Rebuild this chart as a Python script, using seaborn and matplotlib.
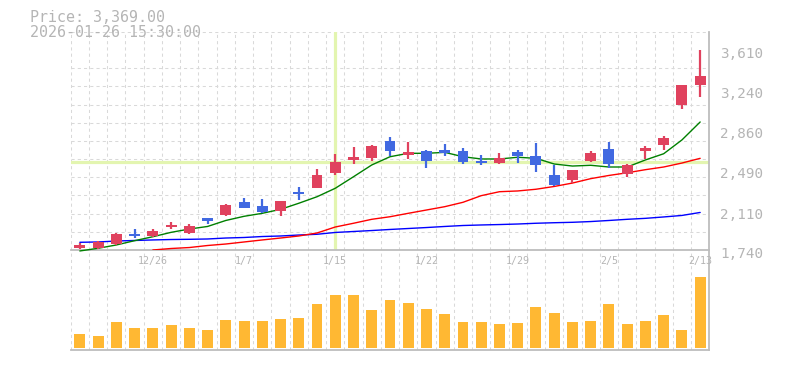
import numpy as np
import pandas as pd
import matplotlib
matplotlib.use("Agg")
import matplotlib.pyplot as plt
import matplotlib.transforms as mtransforms
import seaborn as sns

# ---------------- data ----------------
dates = ["12/22", "12/23", "12/24", "12/25", "12/26", "12/29", "12/30",
         "1/5", "1/6", "1/7", "1/8", "1/9", "1/13", "1/14", "1/15",
         "1/16", "1/19", "1/20", "1/21", "1/22", "1/23", "1/26", "1/27",
         "1/28", "1/29", "1/30", "2/2", "2/3", "2/4", "2/5", "2/6", "2/9",
         "2/10", "2/12", "2/13"]
open_ = [1762, 1762, 1796, 1891, 1871, 1957, 1899, 2039, 2067, 2189, 2151, 2107,
         2284, 2322, 2463, 2583, 2603, 2759, 2624, 2666, 2675, 2666, 2572, 2553,
         2656, 2619, 2441, 2395, 2572, 2684, 2451, 2666, 2722, 3096, 3283]
high = [1808, 1824, 1902, 1934, 1934, 2002, 1981, 2041, 2170, 2229, 2217, 2198,
        2329, 2497, 2639, 2705, 2722, 2799, 2750, 2675, 2731, 2694, 2628, 2647,
        2675, 2740, 2535, 2488, 2666, 2750, 2544, 2712, 2806, 3283, 3610]
low = [1747, 1747, 1787, 1855, 1864, 1932, 1888, 1987, 2061, 2135, 2083, 2060,
       2212, 2322, 2444, 2547, 2574, 2622, 2593, 2510, 2622, 2544, 2535, 2544,
       2555, 2471, 2343, 2369, 2563, 2507, 2423, 2591, 2675, 3058, 3171]
close = [1787, 1815, 1890, 1873, 1920, 1977, 1964, 2011, 2161, 2135, 2098, 2198,
         2268, 2441, 2563, 2610, 2714, 2668, 2656, 2575, 2650, 2565, 2553, 2600,
         2621, 2537, 2348, 2488, 2647, 2544, 2535, 2694, 2787, 3283, 3369]
volume = [137, 117, 257, 197, 197, 227, 197, 177, 277, 267, 267, 287, 297, 437,
          527, 527, 377, 477, 447, 387, 337, 257, 257, 237, 247, 407, 347, 257,
          267, 437, 237, 267, 327, 177, 707]
ma_short = [1731, 1756, 1787, 1827, 1864, 1905, 1936, 1960, 2016, 2055, 2083, 2120,
            2177, 2238, 2317, 2425, 2535, 2612, 2644, 2644, 2653, 2612, 2591, 2591,
            2607, 2597, 2544, 2525, 2532, 2516, 2516, 2582, 2640, 2769, 2937]
ma_mid = [np.nan, np.nan, np.nan, np.nan, 1740, 1754, 1763, 1782, 1796, 1815,
          1834, 1852, 1871, 1899, 1955, 1990, 2027, 2051, 2083, 2114, 2145, 2186,
          2248, 2285, 2292, 2308, 2334, 2366, 2407, 2437, 2462, 2491, 2516, 2553, 2597]
ma_long = [1812, 1815, 1824, 1829, 1834, 1838, 1840, 1843, 1852, 1857, 1866, 1871,
           1880, 1887, 1904, 1913, 1922, 1932, 1941, 1950, 1960, 1969, 1974, 1978,
           1983, 1990, 1995, 1999, 2006, 2016, 2027, 2036, 2049, 2063, 2091]
tick_dates = ["12/26", "1/7", "1/15", "1/22", "1/29", "2/5", "2/13"]
price_ticks = [1740, 2110, 2490, 2860, 3240, 3610]
price_tick_labels = ["1,740", "2,110", "2,490", "2,860", "3,240", "3,610"]
header_price = "Price: 3,369.00"
header_time = "2026-01-26 15:30:00"
cross_idx = 14
cross_price = 2563

# ---------------- style ----------------
sns.set_theme(style="white")
plt.rcParams['font.family'] = ['DejaVu Sans Mono', 'DejaVu Sans']

UP = "#e0425e"
DOWN = "#4169e1"
VOL = "#ffb833"
GRID = "#d9d9d9"
TXT = "#b5b5b5"
SPINE = "#bdbdbd"
CROSS = "#e3f5b0"

W, H = 785, 370
fig = plt.figure(figsize=(W / 100, H / 100), dpi=100)
L, R = 70.7, 709.3
axv = fig.add_axes([L / W, (H - 350) / H, (R - L) / W, 100 / H])
ax = fig.add_axes([L / W, (H - 250) / H, (R - L) / W, (250 - 31.8) / H])
axv.patch.set_alpha(0)
ax.patch.set_alpha(0)

n = len(dates)
df = pd.DataFrame({
    "i": np.arange(n), "date": dates, "open": open_, "high": high, "low": low,
    "close": close, "volume": volume, "ma_short": ma_short, "ma_mid": ma_mid,
    "ma_long": ma_long,
})
df["up"] = df["close"] >= df["open"]
colors = [UP if u else DOWN for u in df["up"]]

# crosshair (beneath everything)
ax.axhline(cross_price, color=CROSS, lw=2.3, zorder=1)
ax.axvline(cross_idx, color=CROSS, lw=2.3, zorder=1)

# moving averages
sns.lineplot(data=df, x="i", y="ma_long", ax=ax, color="#0000ff", lw=1.0, zorder=3, clip_on=False)
sns.lineplot(data=df.dropna(subset=["ma_mid"]), x="i", y="ma_mid", ax=ax, color="#ff0000", lw=1.0, zorder=3)
sns.lineplot(data=df, x="i", y="ma_short", ax=ax, color="#008000", lw=1.0, zorder=3, clip_on=False)

# candles
ax.vlines(df["i"], df["low"], df["high"], colors=colors, lw=1.6, zorder=4)
body_bottom = np.minimum(df["open"], df["close"])
body_h = np.maximum(np.abs(df["close"] - df["open"]), 12)
ax.bar(df["i"], body_h, bottom=body_bottom, width=0.6, color=colors, zorder=5, linewidth=0)

# volume
sns.barplot(data=df, x="i", y="volume", ax=axv, color=VOL, saturation=1,
            width=0.6, native_scale=True, errorbar=None, zorder=3, linewidth=0)

# ---------------- axes ----------------
for a in (ax, axv):
    a.set_xlim(-0.5, n - 0.5)
    a.set_xlabel("")
    a.set_ylabel("")
    a.set_xticks(np.arange(-0.5, n - 0.5, 1), minor=True)
    a.grid(False)
    a.grid(which="minor", axis="x", color=GRID, ls=(0, (3, 3)), lw=0.75, zorder=0)
    a.tick_params(which="both", length=0)
    for s in ("top", "left"):
        a.spines[s].set_visible(False)
    for s in ("bottom", "right"):
        a.spines[s].set_visible(True)
        a.spines[s].set_color(SPINE)
        a.spines[s].set_linewidth(1.3)
    a.set_axisbelow(True)

ax.set_ylim(1740, 3780)
ax.set_yticks(np.arange(1740, 3781, 170), minor=True)
ax.grid(which="minor", axis="y", color=GRID, ls=(0, (3, 3)), lw=0.75, zorder=0)
ax.yaxis.tick_right()
ax.set_yticks(price_ticks)
ax.set_yticklabels(price_tick_labels, fontsize=10.3, color=TXT)
ax.tick_params(axis="y", pad=8)
off = mtransforms.ScaledTranslation(0, -2.7 / 100, fig.dpi_scale_trans)
for lab in ax.get_yticklabels():
    lab.set_transform(lab.get_transform() + off)

ax.set_xticks([dates.index(d) for d in tick_dates])
ax.set_xticklabels(tick_dates, fontsize=7.2, color=TXT)
ax.tick_params(axis="x", pad=4)

axv.set_ylim(-23, 977)
axv.set_yticks([])
axv.set_xticks([])
axv.set_xticks(np.arange(-0.5, n - 0.5, 1), minor=True)
axv.tick_params(which="both", labelbottom=False, length=0)

fig.text(30 / W, 1 - 18 / H, header_price, ha="left", va="center", fontsize=10.8, color=TXT)
fig.text(30 / W, 1 - 32.5 / H, header_time, ha="left", va="center", fontsize=10.8, color=TXT)

fig.savefig("out.png", dpi=100, facecolor="white")
